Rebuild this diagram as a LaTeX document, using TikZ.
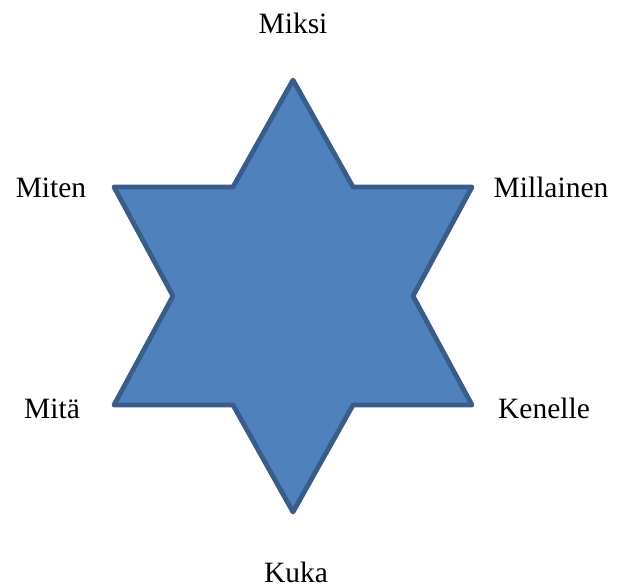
\documentclass[tikz,border=0pt]{standalone}
\usepackage{fontspec}
\setmainfont{Liberation Serif}
\definecolor{starfill}{HTML}{4F81BD}
\definecolor{starline}{HTML}{385D8A}
\begin{document}
\begin{tikzpicture}[x=1pt,y=-1pt,
  lbl/.style={anchor=base,inner sep=0pt,font=\fontsize{29.5}{34}\selectfont},
  star/.style={fill=starfill,draw=starline,line width=4.8pt,line join=round}]
\useasboundingbox (0,0) rectangle (620,587);
\coordinate (t) at (293,80);
\coordinate (i1) at (353,187);
\coordinate (ur) at (472,187);
\coordinate (i2) at (413,296);
\coordinate (lr) at (472,405);
\coordinate (i3) at (353,405);
\coordinate (b) at (293,512);
\coordinate (i4) at (233,405);
\coordinate (ll) at (114,405);
\coordinate (i5) at (173,296);
\coordinate (ul) at (114,187);
\coordinate (i6) at (233,187);
\draw[star] (t) -- (i1) -- (ur) -- (i2) -- (lr) -- (i3) -- (b) -- (i4) -- (ll) -- (i5) -- (ul) -- (i6) -- cycle;
\node[lbl] (miksi) at (293,33) {Miksi};
\node[lbl] (miten) at (51,197) {Miten};
\node[lbl] (millainen) at (551,197) {Millainen};
\node[lbl] (mita) at (52,418) {Mitä};
\node[lbl] (kenelle) at (544,418) {Kenelle};
\node[lbl] (kuka) at (296,582) {Kuka};
\end{tikzpicture}
\end{document}
